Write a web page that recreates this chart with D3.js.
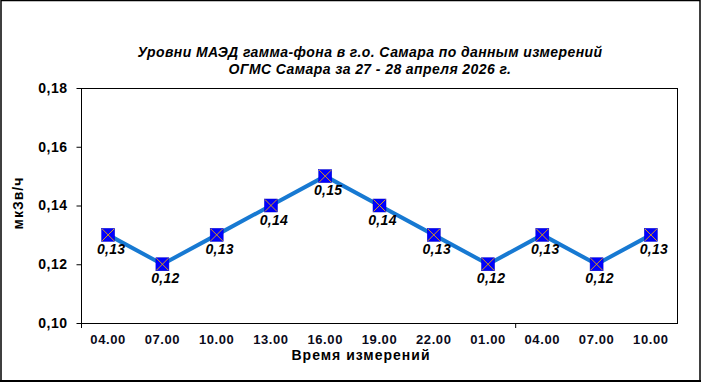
<!DOCTYPE html>
<html><head><meta charset="utf-8">
<script src="https://cdn.jsdelivr.net/npm/d3@7"></script>
<style>body{margin:0;background:#fff}svg{display:block}text{font-family:Arial,"Liberation Sans",sans-serif}</style>
</head><body>
<script>
const categories = ["04.00","07.00","10.00","13.00","16.00","19.00","22.00","01.00","04.00","07.00","10.00"];
const values = [0.13,0.12,0.13,0.14,0.15,0.14,0.13,0.12,0.13,0.12,0.13];
const yTicks = [0.10,0.12,0.14,0.16,0.18];
const xTickBoundaries = [0, 8];
const titleLines = ["Уровни МАЭД гамма-фона в г.о. Самара по данным измерений","ОГМС Самара за 27 - 28 апреля 2026 г."];
const xTitle = "Время измерений";
const yTitle = "мкЗв/ч";

const W=701,H=383;
const m={l:81,r:678,t:88,b:323};
const svg=d3.select("body").append("svg").attr("width",W).attr("height",H);
svg.append("rect").attr("x",0).attr("y",0).attr("width",W).attr("height",H).attr("fill","#fff");
// outer border
svg.append("rect").attr("x",1).attr("y",0.5).attr("width",699).attr("height",380.5).attr("fill","none").attr("stroke","#000").attr("stroke-width",1.5);
svg.append("line").attr("x1",0).attr("x2",W).attr("y1",381).attr("y2",381).attr("stroke","#000").attr("stroke-width",2);

const x=d3.scaleBand().domain(d3.range(categories.length)).range([m.l,m.r]).padding(0);
const y=d3.scaleLinear().domain([0.10,0.18]).range([m.b,m.t]);

// plot frame
svg.append("rect").attr("x",m.l+0.5).attr("y",m.t+0.5).attr("width",m.r-m.l-1).attr("height",m.b-m.t).attr("fill","none").attr("stroke","#000").attr("stroke-width",1);

// y axis
const ya=svg.append("g").attr("transform",`translate(${m.l+0.5},0)`)
 .call(d3.axisLeft(y).tickValues(yTicks).tickSize(5).tickPadding(9).tickFormat(d=>d3.format(".2f")(d).replace(".",",")));
ya.select(".domain").remove();
ya.selectAll("line").attr("stroke","#000");
ya.selectAll("text").attr("font-size",14).attr("font-weight","bold").attr("fill","#000").attr("letter-spacing",0.5).attr("font-family","Arial, 'Liberation Sans', sans-serif");

// x axis labels
const step=x.step();
svg.append("g").selectAll("text").data(categories).join("text")
 .attr("x",(d,i)=>x(i)+step/2).attr("y",344).attr("text-anchor","middle")
 .attr("font-size",13).attr("font-weight","bold").attr("fill","#0a0a1a").attr("letter-spacing",0.6).text(d=>d);
svg.append("g").selectAll("line").data(xTickBoundaries).join("line")
 .attr("x1",d=>m.l+d*step+0.5).attr("x2",d=>m.l+d*step+0.5).attr("y1",m.b).attr("y2",m.b+5).attr("stroke","#000");

// titles
svg.append("g").selectAll("text").data(titleLines).join("text")
 .attr("x",370).attr("y",(d,i)=>57+i*17).attr("text-anchor","middle")
 .attr("font-size",14).attr("font-weight","bold").attr("font-style","italic").attr("letter-spacing",0.4).text(d=>d);
svg.append("text").attr("x",361).attr("y",360).attr("text-anchor","middle").attr("font-size",14).attr("font-weight","bold").attr("letter-spacing",1).text(xTitle);
svg.append("text").attr("transform","translate(23,203) rotate(-90)").attr("text-anchor","middle").attr("font-size",14).attr("font-weight","bold").attr("letter-spacing",1).text(yTitle);

// line
const line=d3.line().x((d,i)=>x(i)+step/2).y(d=>y(d));
svg.append("path").datum(values).attr("d",line).attr("fill","none").attr("stroke","#1779d2").attr("stroke-width",4).attr("stroke-linejoin","round");

// markers
const s=6.5;
const mk=svg.append("g").selectAll("g").data(values).join("g").attr("transform",(d,i)=>`translate(${x(i)+step/2},${y(d)})`);
mk.append("rect").attr("x",-s).attr("y",-s).attr("width",2*s).attr("height",2*s).attr("fill","#0000ff").attr("stroke","#0000c8").attr("stroke-width",0.5);
mk.append("path").attr("d",`M${-s+0.5},${-s+0.5}L${s-0.5},${s-0.5}M${s-0.5},${-s+0.5}L${-s+0.5},${s-0.5}`).attr("stroke","#f0a800").attr("stroke-width",0.9);

// data labels
svg.append("g").selectAll("text").data(values).join("text")
 .attr("x",(d,i)=>x(i)+step/2+3).attr("y",d=>y(d)+19).attr("text-anchor","middle")
 .attr("font-size",14).attr("font-weight","bold").attr("font-style","italic").attr("fill","#000").attr("letter-spacing",0.3)
 .text(d=>d3.format(".2f")(d).replace(".",","));
</script>
</body></html>
